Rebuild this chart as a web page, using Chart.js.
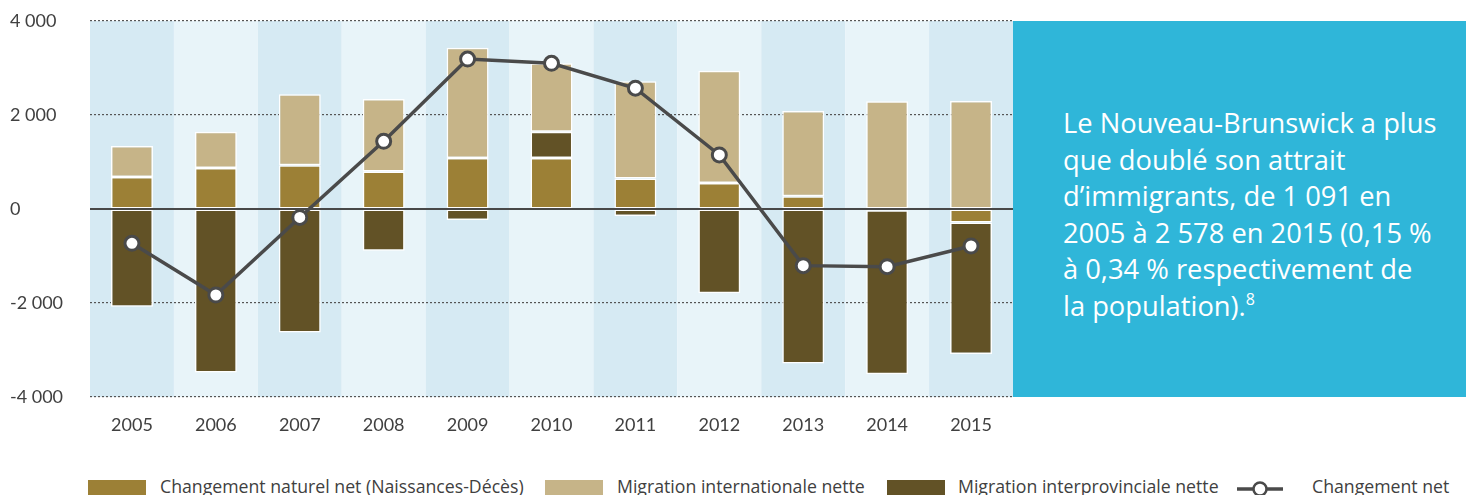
<!DOCTYPE html>
<html>
<head>
<meta charset="utf-8">
<script src="https://cdn.jsdelivr.net/npm/chart.js@4"></script>
<style>
  body { margin: 0; background: #fff; font-family: Lato, sans-serif; }
  #wrap { position: relative; width: 1466px; height: 495px; overflow: hidden; }
  #chart { position: absolute; left: 0; top: 0; }
  #note { position: absolute; left: 1013px; top: 21px; width: 453px; height: 376px; background: #2fb6d9; }
  #note p { position: absolute; left: 50px; top: 84px; margin: 0; color: #fff; font-family: 'Open Sans', sans-serif; font-size: 27.3px; line-height: 36.5px; white-space: nowrap; }
  #note sup { font-size: 16px; vertical-align: 11px; line-height: 0; }
  .lg { position: absolute; top: 476px; height: 20px; line-height: 20px; font-family: 'Open Sans', sans-serif; font-size: 17.7px; color: #404040; white-space: nowrap; }
  .sw { position: absolute; top: 480px; width: 58px; height: 15px; }
</style>
</head>
<body>
<div id="wrap">
  <canvas id="chart" width="1466" height="470"></canvas>
  <div id="note"><p>Le Nouveau-Brunswick a plus<br>que doublé son attrait<br>d’immigrants, de 1 091 en<br>2005 à 2 578 en 2015 (0,15 %<br>à 0,34 % respectivement de<br>la population).<sup>8</sup></p></div>
  <div class="sw" style="left:88px;background:#9c8036"></div>
  <div class="lg" style="left:160px">Changement naturel net (Naissances-Décès)</div>
  <div class="sw" style="left:545px;background:#c6b488"></div>
  <div class="lg" style="left:617px">Migration internationale nette</div>
  <div class="sw" style="left:887px;background:#625226"></div>
  <div class="lg" style="left:958px">Migration interprovinciale nette</div>
  <svg style="position:absolute;left:1236px;top:480px" width="50" height="18">
    <line x1="1" y1="9" x2="47" y2="9" stroke="#4a4a4a" stroke-width="3.5"/>
    <circle cx="24" cy="9" r="6.5" fill="#fff" stroke="#4a4a4a" stroke-width="2.5"/>
  </svg>
  <div class="lg" style="left:1312px">Changement net</div>
</div>
<script>
const years = ['2005', '2006', '2007', '2008', '2009', '2010', '2011', '2012', '2013', '2014', '2015'];
const natural = [680, 870, 930, 800, 1085, 1085, 650, 555, 270, -25, -285];
const interprovincial = [-2080, -3480, -2630, -890, -235, 560, -150, -1795, -3285, -3490, -2800];
const international = [660, 775, 1510, 1540, 2345, 1455, 2070, 2385, 1815, 2290, 2298];
const netChange = [-730, -1830, -180, 1440, 3190, 3100, 2570, 1150, -1205, -1228, -787];
const yTicks = [-4000, -2000, 0, 2000, 4000];

const textColor = '#404040';

// alternating column shading behind the grid
const bandsPlugin = {
    id: 'bands',
    beforeDraw(chart) {
        const { ctx, chartArea, scales } = chart;
        const step = chartArea.width / years.length;
        ctx.save();
        years.forEach((y, i) => {
            const cx = scales.x.getPixelForValue(i);
            ctx.fillStyle = i % 2 === 0 ? '#d6eaf3' : '#e8f4f9';
            ctx.fillRect(cx - step / 2, chartArea.top, step, chartArea.bottom - chartArea.top);
        });
        ctx.restore();
    }
};

// solid zero line, drawn over the bars but under the net line
const zeroPlugin = {
    id: 'zero',
    beforeDatasetDraw(chart, args) {
        if (args.meta.type !== 'line') return;
        const { ctx, chartArea, scales } = chart;
        const y0 = Math.round(scales.y.getPixelForValue(0));
        ctx.save();
        ctx.strokeStyle = '#484848';
        ctx.lineWidth = 2;
        ctx.beginPath();
        ctx.moveTo(chartArea.left, y0);
        ctx.lineTo(chartArea.right + 2, y0);
        ctx.stroke();
        ctx.restore();
    }
};

const barStyle = {
    borderColor: '#ffffff',
    borderWidth: 1.5,
    borderSkipped: false,
    barPercentage: 0.5,
    categoryPercentage: 1,
    stack: 'parts',
    order: 1
};

new Chart(document.getElementById('chart'), {
    type: 'bar',
    data: {
        labels: years,
        datasets: [
            { label: 'Changement naturel net (Naissances-Décès)', data: natural, backgroundColor: '#9c8036', ...barStyle },
            { label: 'Migration interprovinciale nette', data: interprovincial, backgroundColor: '#625226', ...barStyle },
            { label: 'Migration internationale nette', data: international, backgroundColor: '#c6b488', ...barStyle },
            {
                type: 'line',
                label: 'Changement net',
                data: netChange,
                stack: 'net',
                order: 0,
                borderColor: '#4a4a4a',
                borderWidth: 3.5,
                pointRadius: 7,
                pointBorderWidth: 3,
                pointBackgroundColor: '#ffffff',
                pointBorderColor: '#4a4a4a',
                tension: 0
            }
        ]
    },
    options: {
        responsive: false,
        animation: false,
        layout: { padding: { left: 10, top: 21, right: 453, bottom: 0 } },
        plugins: {
            legend: { display: false },
            tooltip: { enabled: false }
        },
        scales: {
            x: {
                stacked: true,
                grid: { display: false },
                border: { display: false },
                ticks: { color: textColor, font: { family: 'Lato', size: 18 }, padding: 9 },
                afterFit(scale) { scale.height = 73; }
            },
            y: {
                stacked: true,
                min: -4000,
                max: 4000,
                afterBuildTicks(scale) { scale.ticks = yTicks.map(v => ({ value: v })); },
                grid: {
                    drawTicks: false,
                    color: ctx => ctx.tick && ctx.tick.value === 0 ? 'rgba(0,0,0,0)' : '#555555',
                    lineWidth: 1.2
                },
                border: { display: false, dash: [2, 2] },
                ticks: {
                    color: textColor,
                    font: { family: 'Lato', size: 18 },
                    crossAlign: 'far',
                    padding: 0,
                    callback: v => String(v).replace(/\B(?=(\d{3})+(?!\d))/g, ' ')
                },
                afterFit(scale) { scale.width = 80; }
            }
        }
    },
    plugins: [bandsPlugin, zeroPlugin]
});
</script>
</body>
</html>
